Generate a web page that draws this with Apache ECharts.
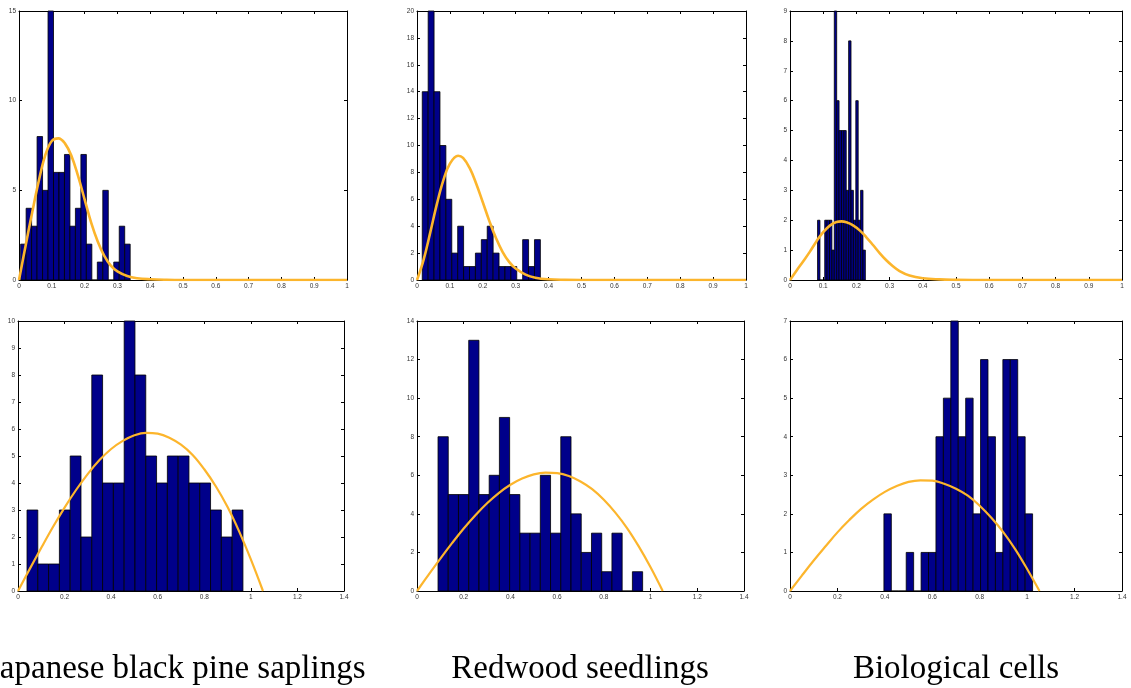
<!DOCTYPE html>
<html>
<head>
<meta charset="utf-8">
<title>Distance histograms</title>
<script src="https://cdn.jsdelivr.net/npm/echarts@6.0.0/dist/echarts.min.js"></script>
<style>
  html, body { margin: 0; padding: 0; background: #fff; }
  #chart { width: 1131px; height: 688px; }
</style>
</head>
<body>
<div id="chart"></div>
<script>
// tick labels
const topXTicks = [0, 0.1, 0.2, 0.3, 0.4, 0.5, 0.6, 0.7, 0.8, 0.9, 1]
const bottomXTicks = [0, 0.2, 0.4, 0.6, 0.8, 1, 1.2, 1.4]
const topPineYTicks = [0, 5, 10, 15]
const topRedwoodYTicks = [0, 2, 4, 6, 8, 10, 12, 14, 16, 18, 20]
const topCellsYTicks = [0, 1, 2, 3, 4, 5, 6, 7, 8, 9]
const bottomPineYTicks = [0, 1, 2, 3, 4, 5, 6, 7, 8, 9, 10]
const bottomRedwoodYTicks = [0, 2, 4, 6, 8, 10, 12, 14]
const bottomCellsYTicks = [0, 1, 2, 3, 4, 5, 6, 7]

// histogram ranges (first and last bin edge) and counts, 20 bins each
const topPineRange = [0.005, 0.339]
const topPineCounts = [2, 4, 3, 8, 5, 15, 6, 6, 7, 3, 4, 7, 2, 0, 1, 5, 0, 1, 3, 2]
const topRedwoodRange = [0.016, 0.375]
const topRedwoodCounts = [14, 20, 14, 10, 6, 2, 4, 1, 1, 2, 3, 4, 2, 1, 1, 1, 0, 3, 1, 3]
const topCellsRange = [0.083, 0.227]
const topCellsCounts = [2, 0, 0, 2, 2, 2, 1, 9, 6, 5, 5, 5, 3, 8, 3, 2, 6, 2, 3, 1]
const bottomPineRange = [0.0387, 0.966]
const bottomPineCounts = [3, 1, 1, 3, 5, 2, 8, 4, 4, 10, 8, 5, 4, 5, 5, 4, 4, 3, 2, 3]
const bottomRedwoodRange = [0.09, 0.966]
const bottomRedwoodCounts = [8, 5, 5, 13, 5, 6, 9, 5, 3, 3, 6, 3, 8, 4, 2, 3, 1, 3, 0, 1]
const bottomCellsRange = [0.396, 1.023]
const bottomCellsCounts = [2, 0, 0, 1, 0, 1, 1, 4, 5, 7, 4, 5, 2, 6, 4, 1, 6, 6, 4, 2]

// fitted curves
const topPineCurve = [[0, 0], [0.02, 1.9], [0.04, 3.75], [0.06, 5.5], [0.08, 6.95], [0.1, 7.75], [0.12, 7.9],
  [0.14, 7.62], [0.16, 6.92], [0.18, 5.8], [0.2, 4.5], [0.22, 3.2], [0.24, 2.15], [0.26, 1.35], [0.28, 0.8],
  [0.3, 0.48], [0.33, 0.22], [0.36, 0.1], [0.4, 0.04], [0.45, 0.01], [0.5, 0], [0.7, 0], [1, 0]]
const topRedwoodCurve = [[0, 0], [0.02, 1.5], [0.04, 3.5], [0.06, 5.6], [0.08, 7.4], [0.1, 8.65], [0.125, 9.24],
  [0.14, 9.08], [0.16, 8.33], [0.18, 7.16], [0.2, 5.78], [0.22, 4.38], [0.24, 3.12], [0.26, 2.1], [0.28, 1.35],
  [0.3, 0.85], [0.33, 0.4], [0.36, 0.17], [0.4, 0.05], [0.45, 0.01], [0.5, 0], [0.7, 0], [1, 0]]
const topCellsCurve = [[0, 0], [0.02, 0.32], [0.04, 0.63], [0.06, 0.95], [0.08, 1.3], [0.1, 1.6], [0.12, 1.82],
  [0.14, 1.94], [0.155, 1.96], [0.17, 1.93], [0.19, 1.83], [0.21, 1.66], [0.23, 1.43], [0.25, 1.17], [0.27, 0.9],
  [0.29, 0.66], [0.31, 0.46], [0.33, 0.3], [0.36, 0.15], [0.4, 0.06], [0.45, 0.02], [0.5, 0.005], [0.55, 0],
  [0.75, 0], [1, 0]]
const bottomCurveX = [0, 0.05, 0.1, 0.15, 0.2, 0.25, 0.3, 0.35, 0.4, 0.45, 0.5, 0.55, 0.6, 0.65, 0.7, 0.75,
  0.8, 0.85, 0.9, 0.95, 1, 1.052]
const bottomPineCurveY = [0, 0.81, 1.6, 2.37, 3.09, 3.75, 4.34, 4.85, 5.26, 5.56, 5.77, 5.86, 5.83, 5.68, 5.42,
  5.04, 4.51, 3.87, 3.11, 2.2, 1.17, 0]
const bottomRedwoodCurveY = [0, 0.85, 1.68, 2.48, 3.24, 3.93, 4.55, 5.08, 5.51, 5.83, 6.05, 6.14, 6.11, 5.96, 5.68,
  5.28, 4.73, 4.05, 3.25, 2.3, 1.23, 0]
const bottomCellsCurveY = [0, 0.4, 0.79, 1.16, 1.52, 1.84, 2.13, 2.37, 2.57, 2.72, 2.83, 2.87, 2.86, 2.78, 2.65,
  2.47, 2.21, 1.89, 1.52, 1.08, 0.57, 0]

const titles = ['Japanese black pine saplings', 'Redwood seedlings', 'Biological cells']

const barColor = '#00008a'
const curveColor = '#fcb52c'

function pairs(xs, ys) {
  return xs.map((x, i) => [x, ys[i]])
}

function bins(range, counts) {
  const w = (range[1] - range[0]) / counts.length
  return counts.map((c, i) => [range[0] + i * w, range[0] + (i + 1) * w, c])
}

const panels = [
  { grid: { left: 19, top: 11, width: 328, height: 269 }, xTicks: topXTicks, yTicks: topPineYTicks,
    range: topPineRange, counts: topPineCounts, curve: topPineCurve, lw: 2.6 },
  { grid: { left: 417, top: 11, width: 329, height: 269 }, xTicks: topXTicks, yTicks: topRedwoodYTicks,
    range: topRedwoodRange, counts: topRedwoodCounts, curve: topRedwoodCurve, lw: 2.6 },
  { grid: { left: 790, top: 11, width: 332, height: 269 }, xTicks: topXTicks, yTicks: topCellsYTicks,
    range: topCellsRange, counts: topCellsCounts, curve: topCellsCurve, lw: 2.6 },
  { grid: { left: 18, top: 321, width: 326, height: 270 }, xTicks: bottomXTicks, yTicks: bottomPineYTicks,
    range: bottomPineRange, counts: bottomPineCounts, curve: pairs(bottomCurveX, bottomPineCurveY), lw: 2.2 },
  { grid: { left: 417, top: 321, width: 327, height: 270 }, xTicks: bottomXTicks, yTicks: bottomRedwoodYTicks,
    range: bottomRedwoodRange, counts: bottomRedwoodCounts, curve: pairs(bottomCurveX, bottomRedwoodCurveY), lw: 2.2 },
  { grid: { left: 790, top: 321, width: 332, height: 270 }, xTicks: bottomXTicks, yTicks: bottomCellsYTicks,
    range: bottomCellsRange, counts: bottomCellsCounts, curve: pairs(bottomCurveX, bottomCellsCurveY), lw: 2.2 }
]

function axis(ticks, gridIndex, position, labels) {
  return {
    type: 'value',
    gridIndex,
    position,
    min: ticks[0],
    max: ticks[ticks.length - 1],
    interval: ticks[1] - ticks[0],
    axisLine: { show: true, onZero: false, lineStyle: { color: '#000', width: 1 } },
    axisTick: { show: true, inside: true, length: 3, lineStyle: { color: '#000', width: 1 } },
    axisLabel: {
      show: labels,
      fontSize: 6.5,
      fontFamily: 'Liberation Sans',
      color: '#333',
      margin: 3
    },
    splitLine: { show: false }
  }
}

function renderHist(params, api) {
  const a = api.coord([api.value(0), api.value(2)])
  const b = api.coord([api.value(1), 0])
  return {
    type: 'rect',
    shape: { x: a[0], y: a[1], width: b[0] - a[0], height: b[1] - a[1] },
    style: { fill: barColor, stroke: '#000', lineWidth: 0.8 }
  }
}

const grids = []
const xAxes = []
const yAxes = []
const series = []

panels.forEach((p, i) => {
  grids.push(Object.assign({ containLabel: false }, p.grid))
  xAxes[i] = axis(p.xTicks, i, 'bottom', true)
  xAxes[i + 6] = axis(p.xTicks, i, 'top', false)
  yAxes[i] = axis(p.yTicks, i, 'left', true)
  yAxes[i + 6] = axis(p.yTicks, i, 'right', false)
  series.push({
    type: 'custom',
    xAxisIndex: i,
    yAxisIndex: i,
    renderItem: renderHist,
    encode: { x: [0, 1], y: 2 },
    data: bins(p.range, p.counts),
    silent: true,
    z: 2
  })
  series.push({
    type: 'line',
    xAxisIndex: i,
    yAxisIndex: i,
    data: p.curve,
    smooth: 0.4,
    symbol: 'none',
    lineStyle: { color: curveColor, width: p.lw },
    silent: true,
    z: 3
  })
})

const titleX = [-13, 580, 956]
const graphic = titles.map((t, i) => ({
  type: 'text',
  x: titleX[i],
  y: 669,
  style: {
    text: t,
    font: '33px "Liberation Serif"',
    fill: '#000',
    align: i === 0 ? 'left' : 'center',
    verticalAlign: 'middle'
  }
}))

const chart = echarts.init(document.getElementById('chart'), null, { renderer: 'canvas' })
chart.setOption({
  animation: false,
  backgroundColor: '#fff',
  grid: grids,
  xAxis: xAxes,
  yAxis: yAxes,
  series,
  graphic
})
</script>
</body>
</html>
